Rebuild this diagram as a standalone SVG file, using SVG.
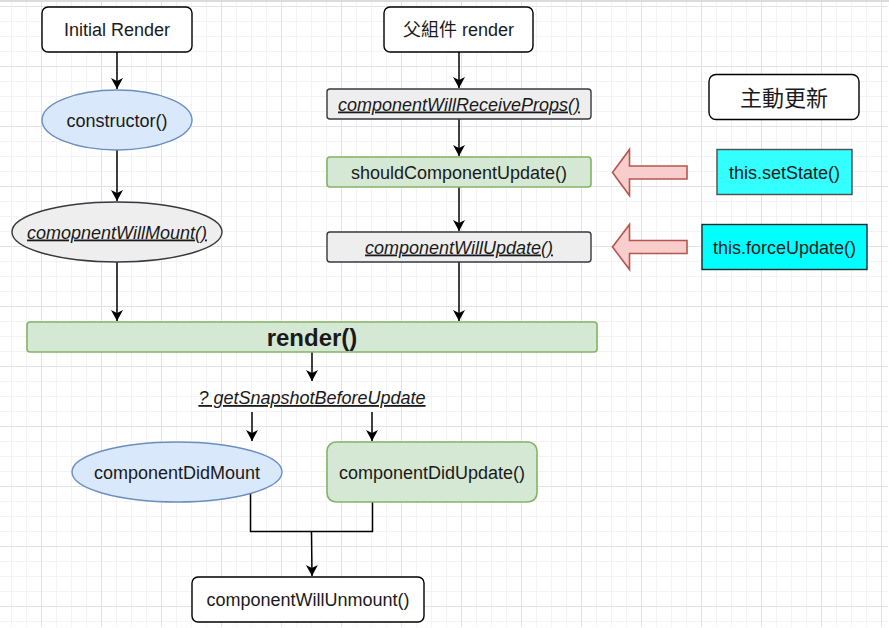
<svg xmlns="http://www.w3.org/2000/svg" width="889" height="628" viewBox="0 0 889 628">
  <style>
    text { font-family: "Liberation Sans", Arial, "Noto Sans CJK TC", sans-serif; font-size: 18px; fill: #1a1a1a; text-anchor: middle; }
    .it { font-style: italic; text-decoration: underline; }
    .plain { fill: #ffffff; stroke: #000000; stroke-width: 1.4; }
    .gray { fill: #eeeeee; stroke: #36393d; stroke-width: 1.4; }
    .blue { fill: #dae8fc; stroke: #6c8ebf; stroke-width: 1.4; }
    .green { fill: #d5e8d4; stroke: #82b366; stroke-width: 1.6; }
    .block { fill: #f8cecc; stroke: #b85450; stroke-width: 1.6; }
    .edge { fill: none; stroke: #000000; stroke-width: 1.5; }
    .arrow { marker-end: url(#head); }
  </style>
  <defs>
    <pattern id="grid" patternUnits="userSpaceOnUse" x="-19" y="6" width="60" height="60">
      <rect x="15" y="0" width="1" height="60" fill="#f3f3f3"/>
      <rect x="30" y="0" width="1" height="60" fill="#f3f3f3"/>
      <rect x="45" y="0" width="1" height="60" fill="#f3f3f3"/>
      <rect x="0" y="15" width="60" height="1" fill="#f3f3f3"/>
      <rect x="0" y="30" width="60" height="1" fill="#f3f3f3"/>
      <rect x="0" y="45" width="60" height="1" fill="#f3f3f3"/>
      <rect x="0" y="0" width="1" height="60" fill="#e2e2e2"/>
      <rect x="0" y="0" width="60" height="1" fill="#e2e2e2"/>
    </pattern>
    <marker id="head" markerUnits="userSpaceOnUse" markerWidth="14" markerHeight="14" viewBox="-12 -7 14 14" refX="0" refY="0" orient="auto">
      <path d="M0,0 L-11,-6 L-8,0 L-11,6 Z" fill="#000000"/>
    </marker>
  </defs>

  <!-- canvas background -->
  <rect x="0" y="0" width="889" height="628" fill="#ffffff"/>
  <rect x="0" y="2" width="888" height="625" fill="url(#grid)"/>
  <rect x="0" y="0" width="889" height="2" fill="#dcdcdc"/>

  <!-- connectors -->
  <g id="connectors">
    <path class="edge arrow" d="M117,52 L117,89"/>
    <path class="edge arrow" d="M117,150 L117,201"/>
    <path class="edge arrow" d="M117,262 L117,321"/>
    <path class="edge arrow" d="M459,52 L459,88"/>
    <path class="edge arrow" d="M459,119 L459,156"/>
    <path class="edge arrow" d="M459,187 L459,231"/>
    <path class="edge arrow" d="M459,262 L459,321"/>
    <path class="edge arrow" d="M312,352 L312,381"/>
    <path class="edge arrow" d="M252,412 L252,441"/>
    <path class="edge arrow" d="M372,412 L372,441"/>
    <path class="edge" d="M250.5,492 L250.5,531.5 L372.5,531.5 L372.5,502"/>
    <path class="edge arrow" d="M311.5,531.5 L312,576"/>
  </g>

  <!-- initial render path -->
  <g id="initial-render">
    <rect class="plain" x="42" y="7" width="150" height="45" rx="6"/>
    <text x="117" y="36">Initial Render</text>
  </g>
  <g id="constructor">
    <ellipse class="blue" cx="117" cy="120" rx="75" ry="30"/>
    <text x="117" y="126.5">constructor()</text>
  </g>
  <g id="component-will-mount">
    <ellipse class="gray" cx="117" cy="232" rx="105" ry="30"/>
    <text class="it" x="117" y="238.5">comopnentWillMount()</text>
  </g>

  <!-- update path -->
  <g id="parent-render">
    <rect class="plain" x="384" y="7" width="149" height="45" rx="6"/>
    <text x="458.5" y="36">父組件 render</text>
  </g>
  <g id="component-will-receive-props">
    <rect class="gray" x="327" y="89" width="264" height="30" rx="3"/>
    <text class="it" x="459" y="110.5">componentWillReceiveProps()</text>
  </g>
  <g id="should-component-update">
    <rect class="green" x="327" y="157" width="264" height="30" rx="3"/>
    <text x="459" y="178.5">shouldComponentUpdate()</text>
  </g>
  <g id="component-will-update">
    <rect class="gray" x="327" y="232" width="264" height="30" rx="3"/>
    <text class="it" x="459" y="253.5">componentWillUpdate()</text>
  </g>

  <!-- self-triggered updates -->
  <g id="self-update">
    <rect class="plain" x="709" y="74.5" width="150" height="45" rx="7"/>
    <text x="784" y="106" style="font-size:22px">主動更新</text>
  </g>
  <g id="set-state">
    <rect x="717" y="149.5" width="135" height="45" fill="#33ffff" stroke="#4d4d4d" stroke-width="1.4"/>
    <text x="784.5" y="178.5">this.setState()</text>
  </g>
  <g id="force-update">
    <rect x="702" y="224.5" width="165" height="45" fill="#00ffff" stroke="#1a2a30" stroke-width="1.4"/>
    <text x="784.5" y="253.5">this.forceUpdate()</text>
  </g>
  <g id="set-state-arrow">
    <path class="block" d="M612.5,172.5 L629.5,149.5 L629.5,166 L687,166 L687,179 L629.5,179 L629.5,195.5 Z"/>
  </g>
  <g id="force-update-arrow">
    <path class="block" d="M612.5,247 L629.5,224.5 L629.5,240.5 L687,240.5 L687,253.5 L629.5,253.5 L629.5,269.5 Z"/>
  </g>

  <!-- shared stages -->
  <g id="render">
    <rect class="green" x="27" y="322" width="570" height="30" rx="3"/>
    <text x="312" y="345.5" style="font-size:24px;font-weight:bold">render()</text>
  </g>
  <g id="get-snapshot">
    <text class="it" x="312" y="404">? getSnapshotBeforeUpdate</text>
  </g>
  <g id="component-did-mount">
    <ellipse class="blue" cx="177" cy="472" rx="105" ry="30"/>
    <text x="177" y="478.5">componentDidMount</text>
  </g>
  <g id="component-did-update">
    <rect class="green" x="327" y="442" width="210" height="60" rx="9"/>
    <text x="432" y="478.5">componentDidUpdate()</text>
  </g>
  <g id="component-will-unmount">
    <rect class="plain" x="192" y="577" width="232" height="45" rx="6"/>
    <text x="308" y="606">componentWillUnmount()</text>
  </g>
</svg>
